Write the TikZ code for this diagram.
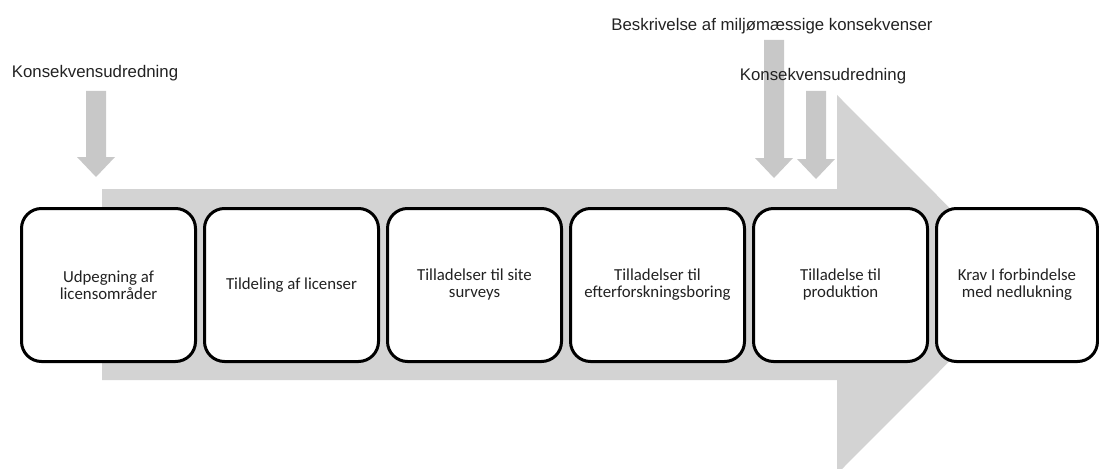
\documentclass[tikz,border=0pt]{standalone}
\usepackage{fontspec}
\usepackage{xcolor}
\setmainfont{Liberation Sans}
\newfontfamily\calibrifont{Carlito}
\usetikzlibrary{positioning}
\definecolor{FlowGray}{RGB}{211,211,211}
\definecolor{DropGray}{RGB}{200,200,200}
\definecolor{TextGray}{RGB}{34,34,34}

\begin{document}
\begin{tikzpicture}[x=1pt, y=-1pt, text=TextGray,
       every node/.style={font=\fontsize{16.8}{17}\selectfont},
       stage/.style={rectangle, rounded corners=20pt, line width=3pt, draw=black,
                     fill=white, minimum width=174pt, minimum height=153pt,
                     align=center, font=\calibrifont\fontsize{16.8}{17}\selectfont},
       caption/.style={inner sep=0pt},
       drop/.style={fill=DropGray}]

	\useasboundingbox (0,0) rectangle (1099,468);
	\clip (0,0) rectangle (1099,468);

	%% Big flow arrow behind the stages
	\fill[FlowGray] (102,189) -- (837,189) -- (837,95) -- (1026,284.5)
		-- (837,474) -- (837,380) -- (102,380) -- cycle;

	%% Input arrows (centre / top of shaft / tip)
	\foreach \x/\t/\b in {96/91/177, 774/40/178, 816/91/179}
		\fill[drop] (\x-10,\t) -- (\x+10,\t) -- (\x+10,\b-20) -- (\x+19,\b-20)
			-- (\x,\b) -- (\x-19,\b-20) -- (\x-10,\b-20) -- cycle;

	%% Captions above the arrows
	\node[caption] (kuleft) at (95,73) {Konsekvensudredning};
	\node[caption] (miljo) at (772,26) {Beskrivelse af miljømæssige konsekvenser};
	\node[caption] (kuright) at (823,76) {Konsekvensudredning};

	%% Stages of the process
	\node[stage] (stage1) at (108.5,285) {Udpegning af\\licensområder};
	\foreach [count=\i from 2] \txt in {{Tildeling af licenser},
			{Tilladelser til site\\surveys},{Tilladelser til\\efterforskningsboring},
			{Tilladelse til\\produktion}}
		{\pgfmathtruncatemacro{\j}{\i-1}
		 \node[stage, right=6pt of stage\j] (stage\i) {\txt};}
	\node[stage, minimum width=161pt, right=6pt of stage5] (stage6)
		{Krav I forbindelse\\med nedlukning};
\end{tikzpicture}
\end{document}
